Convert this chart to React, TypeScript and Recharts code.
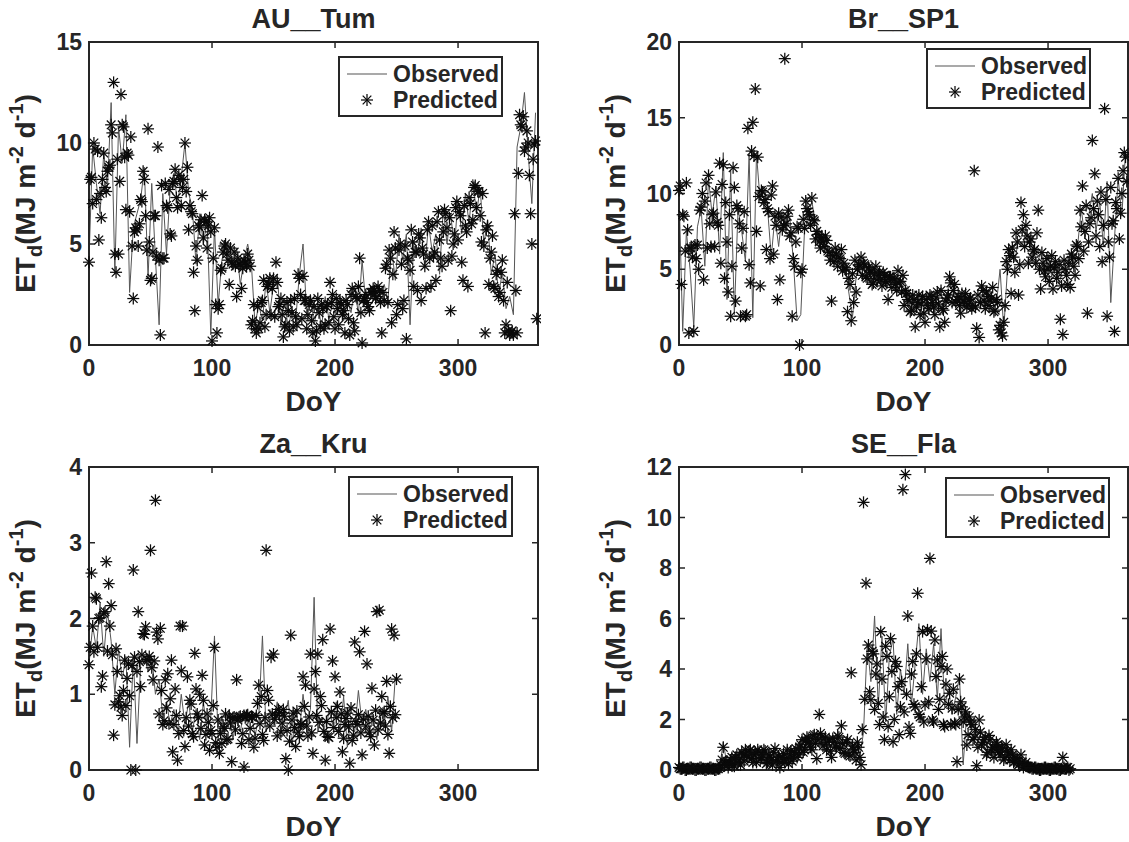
import React from 'react';
import { ComposedChart, Line, XAxis, YAxis, Legend, ReferenceArea, ReferenceLine } from 'recharts';

const FONT = '"Liberation Sans", Arial, Helvetica, sans-serif';
const INK = '#262626';
const OBS_COLOR = '#555555';
const STAR_COLOR = '#0a0a0a';

// Daily ET records: observed sampled every 3rd DoY from DoY 0;
// predicted split into even DoY (0, 2, 4, ...) and odd DoY (1, 3, 5, ...).
const OBS_STEP = 3;
const PRED_STEP = 2;

const DOY_MAX = 365;
const DOY_TICKS = [0, 100, 200, 300];

const AU_TUM_TICKS = [0, 5, 10, 15];
const AU_TUM_OBS = [
  4.2, 9.8, 8.0, 6.5, 9.5, 7.8, 12.0, 3.5, 10.8, 9.0, 11.4, 2.6, 5.8, 6.5, 7.2, 8.8, 3.3, 8.0, 4.3, 1.0,
  7.5, 4.5, 7.8, 8.5, 7.0, 8.3, 10.0, 7.5, 6.8, 4.0, 6.5, 5.0, 6.2, 0.5, 5.8, 2.0, 4.2, 5.0, 4.5, 3.8,
  4.8, 3.0, 4.2, 5.0, 4.0, 1.0, 2.0, 1.2, 3.2, 1.6, 3.0, 3.5, 1.0, 2.2, 0.8, 1.8, 1.2, 3.5, 5.0, 1.5,
  2.5, 1.0, 2.0, 0.9, 2.4, 1.3, 2.0, 1.5, 2.5, 1.2, 2.2, 1.6, 2.9, 1.5, 4.2, 2.0, 2.8, 2.2, 2.9, 2.5,
  3.0, 2.2, 4.8, 3.2, 5.5, 4.2, 5.5, 1.0, 5.2, 4.5, 5.8, 3.8, 6.0, 4.6, 5.5, 3.5, 6.8, 5.0, 6.5, 4.8,
  7.2, 5.5, 7.5, 6.0, 8.2, 6.5, 7.8, 5.0, 6.2, 3.5, 4.5, 2.5, 3.6, 1.8, 2.4, 1.5, 9.8, 10.8, 12.5, 9.5,
  7.0, 11.5,
];
const AU_TUM_PRED_EVEN = [
  4.1, 8.3, 10.0, 7.2, 5.2, 6.3, 9.5, 7.6, 8.8, 10.9, 13.0, 3.6, 4.5, 12.4, 10.8, 6.7, 9.4, 10.3, 2.3, 5.8,
  4.9, 7.2, 8.6, 6.4, 10.7, 3.2, 4.6, 6.4, 9.8, 0.5, 4.3, 8.0, 6.8, 5.5, 8.0, 8.7, 6.8, 8.2, 7.8, 10.0,
  8.8, 6.9, 6.5, 1.7, 4.2, 5.8, 7.4, 6.2, 4.8, 6.3, 0.2, 5.8, 0.6, 2.0, 3.8, 4.9, 4.5, 3.0, 4.1, 4.6,
  2.4, 4.0, 2.8, 4.2, 3.9, 4.2, 1.0, 2.0, 0.6, 0.8, 2.1, 3.2, 1.5, 3.0, 1.5, 3.3, 4.1, 1.9, 2.3, 0.4,
  1.0, 1.7, 2.2, 0.9, 1.4, 3.5, 2.5, 3.4, 2.2, 1.5, 2.2, 0.6, 0.2, 2.3, 0.9, 1.8, 1.0, 2.0, 3.1, 2.5,
  0.8, 1.8, 2.1, 1.5, 0.6, 2.0, 0.5, 2.8, 0.7, 2.3, 4.3, 0.1, 2.3, 2.1, 1.7, 2.6, 2.7, 2.4, 2.7, 0.6,
  2.2, 4.0, 4.7, 1.1, 5.6, 1.5, 4.7, 4.0, 2.2, 0.3, 4.2, 5.7, 2.9, 4.6, 5.5, 2.2, 4.5, 2.8, 6.1, 2.9,
  4.4, 3.2, 6.6, 4.3, 5.6, 6.5, 4.2, 1.7, 5.0, 6.8, 5.2, 6.4, 3.2, 5.9, 2.9, 7.0, 6.2, 7.9, 7.6, 6.4,
  7.5, 0.6, 5.9, 4.3, 5.4, 2.8, 3.7, 2.6, 4.2, 0.6, 3.1, 0.5, 0.7, 6.5, 0.6, 11.4, 10.8, 9.6, 10.6, 8.4,
  5.0, 9.9, 1.3,
];
const AU_TUM_PRED_ODD = [
  8.2, 7.0, 9.7, 9.6, 7.5, 8.2, 7.8, 8.6, 8.9, 10.5, 4.5, 9.2, 8.1, 10.9, 9.3, 9.5, 6.6, 4.9, 5.6, 5.7,
  6.0, 7.1, 8.2, 4.7, 5.1, 3.3, 6.4, 4.4, 4.2, 7.9, 4.3, 6.9, 7.7, 5.4, 8.1, 7.3, 8.4, 6.9, 8.2, 7.6,
  5.7, 6.6, 3.6, 4.9, 5.9, 6.2, 5.3, 6.1, 5.9, 5.6, 4.3, 2.0, 1.8, 3.7, 4.6, 5.0, 4.2, 4.8, 4.0, 3.9,
  4.3, 4.0, 3.8, 4.1, 4.5, 3.9, 1.2, 0.8, 1.9, 1.1, 2.2, 0.9, 2.9, 3.3, 2.8, 1.4, 3.1, 2.0, 1.5, 0.9,
  2.1, 0.7, 1.6, 2.3, 1.0, 3.3, 1.3, 2.2, 0.8, 2.0, 1.2, 1.9, 0.7, 1.6, 2.0, 0.8, 1.9, 1.1, 2.1, 1.4,
  2.3, 1.0, 2.0, 1.7, 2.2, 1.3, 2.5, 1.1, 2.4, 2.9, 1.6, 2.2, 2.5, 1.9, 2.6, 2.8, 2.3, 2.9, 2.1, 2.6,
  3.8, 2.1, 4.3, 3.5, 4.8, 2.0, 5.0, 1.8, 4.9, 4.3, 3.7, 5.1, 4.6, 2.7, 5.3, 4.8, 3.9, 5.7, 4.3, 5.9,
  4.6, 6.1, 5.2, 3.9, 6.7, 5.8, 6.3, 4.4, 5.5, 7.1, 6.6, 4.1, 6.9, 5.6, 7.3, 6.0, 7.8, 6.8, 7.6, 5.1,
  4.9, 5.7, 3.0, 4.6, 2.9, 3.5, 2.4, 3.6, 2.2, 1.0, 0.7, 0.6, 0.5, 2.7, 8.5, 10.9, 11.3, 9.8, 10.0, 6.5,
  9.2, 10.1,
];

const BR_SP1_TICKS = [0, 5, 10, 15, 20];
const BR_SP1_OBS = [
  10.2, 0.9, 7.5, 5.0, 1.2, 7.8, 9.0, 5.2, 11.0, 8.5, 10.5, 6.0, 12.7, 3.0, 11.5, 2.0, 9.0, 7.5, 5.5, 12.6,
  1.8, 12.6, 9.5, 10.5, 9.0, 5.8, 8.5, 6.5, 8.8, 7.5, 8.5, 5.5, 1.6, 2.0, 7.5, 8.5, 9.5, 8.0, 7.6, 7.0,
  6.5, 5.8, 6.2, 5.5, 5.8, 5.0, 3.5, 1.8, 4.5, 5.2, 5.5, 5.0, 5.6, 4.8, 5.0, 4.6, 4.8, 4.2, 4.4, 4.5,
  3.9, 4.2, 3.8, 2.5, 3.0, 2.6, 3.2, 2.7, 3.5, 2.4, 3.0, 3.4, 2.6, 3.8, 4.3, 3.0, 3.5, 3.1, 3.0, 3.3,
  3.0, 2.8, 3.2, 2.6, 3.4, 3.0, 2.7, 5.0, 1.0, 5.0, 6.2, 5.5, 7.0, 6.5, 7.5, 7.0, 6.2, 5.5, 6.0, 4.8,
  6.0, 4.5, 5.5, 4.0, 5.2, 4.5, 6.0, 5.0, 6.5, 9.0, 7.0, 8.5, 10.0, 7.5, 9.5, 6.5, 10.8, 2.8, 7.0, 11.0,
  8.5, 12.8,
];
const BR_SP1_PRED_EVEN = [
  10.2, 4.0, 8.5, 10.7, 0.8, 6.4, 0.9, 5.7, 5.0, 9.1, 4.3, 10.7, 11.2, 6.5, 8.7, 10.1, 7.9, 5.4, 11.9, 9.4,
  3.5, 1.9, 11.7, 2.9, 9.0, 1.9, 7.7, 1.9, 14.3, 4.1, 14.7, 16.9, 12.4, 3.9, 10.1, 9.6, 9.0, 5.7, 10.5, 8.5,
  3.0, 4.3, 7.6, 18.9, 8.5, 7.2, 1.9, 5.2, 7.8, 0.0, 5.0, 7.7, 9.0, 8.6, 9.7, 8.2, 7.5, 6.8, 7.1, 6.5,
  6.9, 6.1, 2.9, 5.5, 6.0, 5.8, 6.3, 5.4, 5.0, 4.4, 1.6, 2.8, 3.5, 5.3, 5.8, 5.4, 4.5, 5.1, 4.8, 4.1,
  5.2, 4.6, 4.3, 4.8, 4.2, 3.0, 4.5, 4.4, 4.0, 4.9, 4.2, 4.6, 3.6, 3.0, 2.2, 3.3, 1.2, 2.8, 2.0, 3.2,
  1.5, 2.6, 3.3, 2.8, 2.0, 3.5, 1.2, 2.4, 1.5, 3.1, 4.5, 2.8, 4.0, 3.0, 2.6, 3.4, 2.9, 2.5, 3.0, 2.4,
  11.5, 1.1, 0.5, 3.9, 2.9, 3.5, 2.6, 3.1, 2.2, 3.0, 1.0, 0.8, 1.5, 5.5, 6.3, 3.4, 5.8, 7.4, 3.3, 9.4,
  8.6, 7.9, 5.4, 7.0, 6.2, 5.4, 8.9, 3.7, 5.4, 4.5, 5.0, 5.2, 3.7, 5.5, 4.8, 1.7, 0.7, 5.0, 4.0, 3.8,
  5.8, 4.6, 6.5, 8.9, 10.5, 7.5, 2.1, 8.0, 13.5, 11.3, 9.5, 6.5, 5.5, 15.6, 1.9, 5.8, 8.0, 0.9, 9.0, 7.0,
  10.0, 12.7, 10.8,
];
const BR_SP1_PRED_ODD = [
  10.5, 8.6, 6.2, 7.6, 6.4, 5.8, 6.6, 6.6, 8.9, 10.0, 9.5, 6.4, 8.0, 8.6, 6.5, 8.1, 12.0, 10.6, 4.4, 6.8,
  8.6, 5.2, 10.4, 9.2, 8.0, 6.4, 8.8, 2.0, 5.3, 12.8, 12.5, 7.5, 9.8, 10.2, 9.4, 6.3, 8.8, 9.9, 6.0, 7.9,
  8.7, 8.4, 7.9, 8.0, 8.9, 7.4, 5.7, 6.8, 7.7, 4.8, 8.3, 9.5, 8.8, 7.9, 8.3, 7.0, 7.3, 6.4, 6.8, 7.2,
  6.2, 5.6, 5.9, 6.4, 5.2, 5.7, 4.9, 5.1, 2.2, 4.0, 4.7, 5.6, 5.0, 5.2, 4.6, 5.3, 4.4, 4.9, 4.0, 4.7,
  4.3, 4.8, 3.9, 4.6, 4.1, 4.5, 3.8, 4.3, 3.6, 4.1, 3.5, 2.6, 3.4, 2.9, 2.3, 3.0, 2.5, 3.3, 2.7, 2.1,
  3.0, 2.4, 3.2, 2.5, 3.1, 2.7, 3.6, 2.3, 2.9, 3.3, 4.1, 3.6, 2.8, 3.2, 2.1, 2.9, 3.4, 2.7, 3.1, 2.6,
  2.5, 3.3, 2.8, 3.6, 2.4, 3.2, 2.9, 3.8, 2.3, 2.8, 1.3, 0.6, 2.6, 5.0, 5.9, 6.4, 4.8, 6.8, 5.3, 7.6,
  6.5, 7.2, 6.8, 5.8, 6.3, 7.4, 5.0, 6.1, 4.9, 5.7, 4.2, 5.9, 5.1, 4.4, 5.3, 3.9, 5.6, 4.6, 5.4, 6.0,
  5.2, 6.6, 5.7, 7.8, 6.2, 9.2, 6.8, 8.4, 9.0, 7.2, 8.6, 10.1, 7.9, 9.6, 6.8, 10.4, 8.2, 9.4, 11.0, 8.7,
  11.5, 12.4,
];

const ZA_KRU_TICKS = [0, 1, 2, 3, 4];
const ZA_KRU_OBS = [
  1.4, 1.9, 1.6, 2.2, 1.5, 2.1, 1.7, 1.0, 1.6, 1.2, 1.5, 0.3, 1.5, 0.35, 1.4, 1.5, 1.3, 1.5, 1.0, 1.2,
  0.7, 0.9, 0.6, 0.8, 0.5, 1.0, 0.6, 0.9, 0.5, 0.8, 0.4, 0.9, 0.5, 0.7, 1.77, 0.4, 0.7, 0.5, 0.8, 0.4,
  0.7, 0.5, 0.8, 0.6, 0.75, 0.45, 0.7, 1.77, 0.5, 0.8, 0.6, 0.9, 0.5, 0.7, 0.92, 0.3, 0.8, 0.5, 1.0, 0.6,
  0.8, 2.28, 0.5, 0.7, 0.4, 0.8, 0.6, 0.9, 0.5, 0.97, 0.3, 0.7, 0.5, 1.05, 0.6, 0.8, 0.5, 0.7, 0.4, 0.8,
  0.6, 0.97, 0.5, 1.23,
];
const ZA_KRU_PRED_EVEN = [
  1.39, 2.6, 1.56, 2.26, 2.0, 1.1, 2.07, 2.75, 2.46, 2.17, 0.46, 1.6, 0.9, 0.83, 1.05, 0.85, 1.4, 0.0, 2.64, 0.0,
  2.09, 1.1, 1.8, 1.89, 1.45, 2.9, 1.19, 3.56, 1.73, 1.87, 0.6, 1.19, 1.27, 0.94, 0.24, 1.07, 0.13, 1.9, 1.9, 0.31,
  1.23, 0.92, 0.48, 1.54, 0.74, 1.0, 1.25, 0.33, 0.74, 0.26, 0.48, 1.62, 0.3, 0.22, 0.35, 0.55, 0.4, 0.7, 0.11, 0.7,
  1.19, 0.7, 0.35, 0.04, 0.72, 0.4, 0.7, 0.3, 0.72, 1.12, 0.97, 0.39, 2.9, 0.92, 1.49, 1.53, 0.72, 0.8, 0.5, 0.8,
  0.15, 0.0, 1.78, 0.75, 0.31, 0.5, 0.6, 1.23, 1.12, 0.45, 1.53, 0.22, 1.3, 1.53, 0.97, 1.72, 0.13, 0.44, 1.86, 1.44,
  1.23, 0.84, 1.03, 0.24, 0.6, 0.75, 0.09, 0.39, 1.69, 0.6, 1.56, 0.2, 1.83, 1.4, 0.5, 1.08, 0.33, 2.09, 2.11, 0.97,
  0.77, 1.17, 0.22, 1.86, 1.78, 1.2,
];
const ZA_KRU_PRED_ODD = [
  1.62, 1.9, 2.28, 1.62, 2.01, 1.24, 2.09, 1.57, 1.9, 1.52, 0.86, 1.3, 0.98, 0.72, 1.45, 1.21, 0.98, 1.38, 1.49, 1.3,
  1.43, 1.52, 1.79, 1.46, 1.5, 1.35, 1.44, 1.82, 0.74, 1.05, 0.65, 0.82, 0.61, 1.45, 0.6, 0.72, 0.48, 1.31, 0.52, 0.69,
  0.58, 0.87, 0.44, 1.07, 0.69, 0.55, 0.92, 0.47, 0.63, 0.52, 0.85, 0.36, 0.66, 0.48, 0.57, 0.74, 0.41, 0.62, 0.69, 0.53,
  0.66, 0.71, 0.48, 0.69, 0.73, 0.55, 0.7, 0.42, 0.88, 0.61, 0.47, 0.69, 1.05, 0.58, 0.74, 0.67, 0.45, 0.76, 0.62, 0.71,
  0.52, 0.38, 0.66, 0.56, 0.78, 0.44, 0.61, 0.84, 0.58, 0.7, 0.49, 1.07, 0.72, 0.63, 0.85, 0.51, 0.64, 0.43, 0.77, 0.56,
  0.69, 0.51, 0.74, 0.42, 0.68, 0.57, 0.82, 0.46, 0.64, 0.73, 0.49, 0.67, 0.58, 0.71, 0.44, 0.66, 0.79, 0.53, 0.62, 0.75,
  0.58, 0.47, 0.84, 0.69, 0.73,
];

const SE_FLA_TICKS = [0, 2, 4, 6, 8, 10, 12];
const SE_FLA_OBS = [
  0.1, 0.05, 0.05, 0.05, 0.05, 0.05, 0.05, 0.05, 0.05, 0.05, 0.05, 0.1, 1.1, 0.2, 0.4, 0.3, 0.5, 0.3, 0.6, 0.8,
  0.5, 0.7, 0.4, 0.8, 0.5, 0.6, 0.3, 0.6, 0.4, 0.7, 0.5, 0.8, 0.6, 1.0, 0.8, 1.2, 1.4, 1.0, 1.5, 1.2,
  1.4, 0.9, 1.3, 0.8, 1.2, 0.9, 1.1, 0.6, 1.0, 0.5, 1.5, 5.0, 3.5, 6.1, 2.5, 5.3, 1.9, 4.5, 5.2, 2.2,
  4.0, 3.0, 5.0, 2.6, 4.2, 5.8, 3.0, 4.8, 3.5, 5.0, 2.8, 5.6, 2.5, 3.2, 2.2, 2.9, 3.7, 0.2, 2.3, 1.6,
  2.0, 1.2, 1.5, 0.8, 1.2, 0.6, 1.0, 0.7, 1.1, 0.5, 0.8, 0.4, 0.6, 0.3, 0.4, 0.2, 0.15, 0.1, 0.05, 0.05,
  0.05, 0.05, 0.05, 0.05, 0.05, 0.05, 0.05,
];
const SE_FLA_PRED_EVEN = [
  0.1, 0.05, 0.1, 0.0, 0.05, 0.1, 0.05, 0.0, 0.05, 0.1, 0.05, 0.0, 0.05, 0.1, 0.05, 0.0, 0.05, 0.2, 0.9, 0.3,
  0.1, 0.4, 0.2, 0.5, 0.3, 0.2, 0.6, 0.8, 0.5, 0.8, 0.3, 0.7, 0.8, 0.4, 0.6, 0.75, 0.3, 0.5, 0.2, 0.85,
  0.4, 0.1, 0.5, 0.3, 0.8, 0.6, 0.35, 0.7, 0.5, 0.9, 1.2, 0.8, 1.3, 1.1, 0.8, 1.4, 0.45, 2.2, 1.3, 1.0,
  0.8, 1.2, 0.5, 1.1, 0.9, 1.3, 1.75, 0.7, 1.1, 0.6, 3.85, 0.8, 0.4, 0.9, 0.21, 10.6, 7.4, 4.95, 2.78, 4.6,
  3.8, 2.64, 5.48, 2.1, 4.9, 1.72, 5.2, 1.12, 4.3, 3.3, 2.5, 11.1, 11.7, 6.1, 1.45, 4.3, 2.5, 7.0, 2.1, 5.48,
  2.58, 5.55, 8.38, 1.98, 5.15, 4.36, 2.8, 4.5, 1.72, 4.0, 3.04, 2.45, 1.85, 0.33, 3.6, 2.5, 2.1, 0.99, 2.1, 1.8,
  1.3, 0.17, 1.98, 1.0, 1.2, 0.6, 1.37, 0.8, 0.5, 1.1, 0.7, 0.9, 0.4, 1.0, 0.6, 0.8, 0.3, 0.5, 0.2, 0.6,
  0.1, 0.3, 0.15, 0.1, 0.05, 0.1, 0.05, 0.0, 0.05, 0.1, 0.05, 0.0, 0.05, 0.1, 0.05, 0.0, 0.5, 0.05, 0.1, 0.05,
];
const SE_FLA_PRED_ODD = [
  0.05, 0.1, 0.0, 0.05, 0.1, 0.05, 0.0, 0.05, 0.1, 0.05, 0.0, 0.05, 0.1, 0.05, 0.0, 0.05, 0.1, 0.4, 0.2, 0.35,
  0.25, 0.5, 0.15, 0.6, 0.4, 0.7, 0.35, 0.55, 0.75, 0.45, 0.6, 0.3, 0.7, 0.5, 0.8, 0.25, 0.6, 0.4, 0.7, 0.35,
  0.55, 0.3, 0.65, 0.45, 0.25, 0.75, 0.5, 0.85, 0.6, 1.0, 0.7, 1.15, 1.25, 0.9, 1.35, 1.05, 1.2, 1.45, 0.95, 1.3,
  1.1, 0.75, 1.25, 0.95, 1.35, 0.85, 1.05, 0.65, 1.2, 0.55, 0.95, 0.7, 1.1, 0.5, 1.6, 2.8, 4.4, 3.1, 4.7, 2.4,
  4.2, 1.8, 3.6, 1.2, 4.5, 2.9, 3.9, 2.0, 4.1, 1.4, 3.5, 2.3, 3.0, 1.7, 3.8, 2.6, 4.6, 2.2, 3.3, 1.9,
  4.4, 2.7, 5.5, 1.9, 3.7, 2.4, 4.1, 1.8, 3.4, 2.6, 1.8, 3.2, 1.8, 2.4, 2.7, 1.9, 2.3, 1.4, 1.9, 1.2,
  1.6, 0.9, 1.5, 1.1, 1.3, 0.7, 1.2, 0.9, 0.8, 1.0, 0.6, 0.85, 0.5, 0.75, 0.4, 0.6, 0.35, 0.45, 0.25, 0.3,
  0.2, 0.15, 0.1, 0.05, 0.1, 0.05, 0.0, 0.05, 0.1, 0.05, 0.0, 0.05, 0.1, 0.05, 0.0, 0.05, 0.1, 0.05, 0.0,
];

// Geometry shared by every subplot (chart-local pixels).
const LAYOUT = {
  chartW: 541,
  chartH: 420,
  plotLeft: 89,
  plotTop: 42,
  plotRight: 538,
  plotBottom: 345,
  tickLen: 6,
};
const PLOT_W = LAYOUT.plotRight - LAYOUT.plotLeft;
const PLOT_H = LAYOUT.plotBottom - LAYOUT.plotTop;

const PANELS = [
  { title: 'AU__Tum', obs: AU_TUM_OBS, predEven: AU_TUM_PRED_EVEN, predOdd: AU_TUM_PRED_ODD, ticks: AU_TUM_TICKS, left: 0, top: 0, legend: { left: 338, top: 56 } },
  { title: 'Br__SP1', obs: BR_SP1_OBS, predEven: BR_SP1_PRED_EVEN, predOdd: BR_SP1_PRED_ODD, ticks: BR_SP1_TICKS, left: 590, top: 0, legend: { left: 336, top: 48 } },
  { title: 'Za__Kru', obs: ZA_KRU_OBS, predEven: ZA_KRU_PRED_EVEN, predOdd: ZA_KRU_PRED_ODD, ticks: ZA_KRU_TICKS, left: 0, top: 425, legend: { left: 348, top: 51 } },
  { title: 'SE__Fla', obs: SE_FLA_OBS, predEven: SE_FLA_PRED_EVEN, predOdd: SE_FLA_PRED_ODD, ticks: SE_FLA_TICKS, left: 590, top: 425, legend: { left: 355, top: 52 } },
];

function toSeries(values: number[], step: number, first = 0) {
  return values.map((et, i) => ({ doy: first + i * step, et }));
}

function StarMark({ cx, cy }: { cx?: number; cy?: number }) {
  if (cx == null || cy == null || Number.isNaN(cx) || Number.isNaN(cy)) return null;
  const r = 6;
  const d = r * 0.72;
  return (
    <g stroke={STAR_COLOR} strokeWidth={1.25} fill="none">
      <line x1={cx - r} y1={cy} x2={cx + r} y2={cy} />
      <line x1={cx} y1={cy - r} x2={cx} y2={cy + r} />
      <line x1={cx - d} y1={cy - d} x2={cx + d} y2={cy + d} />
      <line x1={cx - d} y1={cy + d} x2={cx + d} y2={cy - d} />
    </g>
  );
}

const renderStar = (p: any) => <StarMark key={`star-${p.index}`} cx={p.cx} cy={p.cy} />;

function YTitle() {
  const x = LAYOUT.plotLeft - 54;
  const y = (LAYOUT.plotTop + LAYOUT.plotBottom) / 2;
  return (
    <text
      x={x}
      y={y}
      transform={`rotate(-90 ${x} ${y})`}
      textAnchor="middle"
      fill={INK}
      fontFamily={FONT}
      fontWeight={700}
      fontSize={28}
    >
      <tspan>ET</tspan>
      <tspan fontSize={20} dy={7}>d</tspan>
      <tspan dy={-7}>(MJ m</tspan>
      <tspan fontSize={20} dy={-12}>-2</tspan>
      <tspan dy={12}>{'\u00a0d'}</tspan>
      <tspan fontSize={20} dy={-12}>-1</tspan>
      <tspan dy={12}>)</tspan>
    </text>
  );
}

function XTitle() {
  return (
    <text
      x={(LAYOUT.plotLeft + LAYOUT.plotRight) / 2}
      y={LAYOUT.plotBottom + 66}
      textAnchor="middle"
      fill={INK}
      fontFamily={FONT}
      fontWeight={700}
      fontSize={28}
    >
      DoY
    </text>
  );
}

function PanelTitle({ text, left, top }: { text: string; left: number; top: number }) {
  return (
    <svg
      width={LAYOUT.chartW}
      height={LAYOUT.plotTop}
      style={{ position: 'absolute', left, top, overflow: 'visible', pointerEvents: 'none' }}
    >
      <text
        x={(LAYOUT.plotLeft + LAYOUT.plotRight) / 2}
        y={LAYOUT.plotTop - 14}
        textAnchor="middle"
        fill={INK}
        fontFamily={FONT}
        fontWeight={700}
        fontSize={27}
      >
        {text}
      </text>
    </svg>
  );
}

function LegendBox() {
  const txt = { fill: INK, fontFamily: FONT, fontWeight: 700, fontSize: 23 } as const;
  return (
    <svg width={165} height={61} style={{ display: 'block' }}>
      <rect x={1} y={1} width={163} height={59} fill="#ffffff" stroke={INK} strokeWidth={2} />
      <line x1={9} y1={18} x2={49} y2={18} stroke={OBS_COLOR} strokeWidth={1.2} />
      <text x={55} y={26} {...txt}>Observed</text>
      <StarMark cx={29} cy={44} />
      <text x={55} y={52} {...txt}>Predicted</text>
    </svg>
  );
}

const tickStyle = { fill: INK, fontSize: 23, fontWeight: 700, fontFamily: FONT };

function Panel({ cfg }: { cfg: (typeof PANELS)[number] }) {
  const obs = toSeries(cfg.obs, OBS_STEP);
  const pred = [...toSeries(cfg.predEven, PRED_STEP, 0), ...toSeries(cfg.predOdd, PRED_STEP, 1)].sort(
    (a, b) => a.doy - b.doy,
  );
  const yMax = cfg.ticks[cfg.ticks.length - 1];
  const axisLine = { stroke: INK, strokeWidth: 2 };
  const tickLine = { stroke: INK, strokeWidth: 1.5 };
  // inward tick length on the top / right box edges, in data units
  const topTick = (yMax * LAYOUT.tickLen) / PLOT_H;
  const rightTick = (DOY_MAX * LAYOUT.tickLen) / PLOT_W;
  return (
    <>
      <div style={{ position: 'absolute', left: cfg.left, top: cfg.top }}>
        <ComposedChart
          width={LAYOUT.chartW}
          height={LAYOUT.chartH}
          margin={{
            top: LAYOUT.plotTop,
            right: LAYOUT.chartW - LAYOUT.plotRight,
            bottom: 35,
            left: LAYOUT.plotLeft - 60,
          }}
        >
          <XAxis
            xAxisId="b"
            orientation="bottom"
            type="number"
            dataKey="doy"
            domain={[0, DOY_MAX]}
            ticks={DOY_TICKS}
            interval={0}
            height={40}
            tickSize={-LAYOUT.tickLen}
            tickMargin={21}
            axisLine={axisLine}
            tickLine={tickLine}
            tick={tickStyle}
            label={{ content: () => <XTitle /> }}
          />
          <YAxis
            yAxisId="l"
            orientation="left"
            type="number"
            domain={[0, yMax]}
            ticks={cfg.ticks}
            interval={0}
            width={60}
            tickSize={-LAYOUT.tickLen}
            tickMargin={13}
            axisLine={axisLine}
            tickLine={tickLine}
            tick={tickStyle}
            label={{ content: () => <YTitle /> }}
          />
          {/* closed axes box */}
          <ReferenceArea
            xAxisId="b"
            yAxisId="l"
            x1={0}
            x2={DOY_MAX}
            y1={0}
            y2={yMax}
            fill="none"
            fillOpacity={0}
            stroke={INK}
            strokeWidth={2}
            ifOverflow="visible"
          />
          {DOY_TICKS.filter((t) => t > 0).map((t) => (
            <ReferenceLine
              key={`tt-${t}`}
              xAxisId="b"
              yAxisId="l"
              segment={[
                { x: t, y: yMax },
                { x: t, y: yMax - topTick },
              ]}
              stroke={INK}
              strokeWidth={1.5}
              ifOverflow="visible"
            />
          ))}
          {cfg.ticks
            .filter((t) => t > 0 && t < yMax)
            .map((t) => (
              <ReferenceLine
                key={`rt-${t}`}
                xAxisId="b"
                yAxisId="l"
                segment={[
                  { x: DOY_MAX, y: t },
                  { x: DOY_MAX - rightTick, y: t },
                ]}
                stroke={INK}
                strokeWidth={1.5}
                ifOverflow="visible"
              />
            ))}
          <Line
            xAxisId="b"
            yAxisId="l"
            data={obs}
            dataKey="et"
            name="Observed"
            type="linear"
            stroke={OBS_COLOR}
            strokeWidth={1}
            dot={false}
            activeDot={false}
            isAnimationActive={false}
          />
          <Line
            xAxisId="b"
            yAxisId="l"
            data={pred}
            dataKey="et"
            name="Predicted"
            type="linear"
            stroke="none"
            dot={renderStar}
            activeDot={false}
            isAnimationActive={false}
          />
          <Legend
            layout="vertical"
            verticalAlign="middle"
            align="center"
            content={() => <LegendBox />}
            wrapperStyle={{ left: cfg.legend.left, top: cfg.legend.top, width: 165, height: 61 }}
          />
        </ComposedChart>
      </div>
      <PanelTitle text={cfg.title} left={cfg.left} top={cfg.top} />
    </>
  );
}

export default function App() {
  return (
    <div
      style={{
        position: 'absolute',
        left: 0,
        top: 0,
        width: 1129,
        height: 842,
        overflow: 'hidden',
        background: '#ffffff',
      }}
    >
      {PANELS.map((cfg) => (
        <Panel key={cfg.title} cfg={cfg} />
      ))}
    </div>
  );
}
